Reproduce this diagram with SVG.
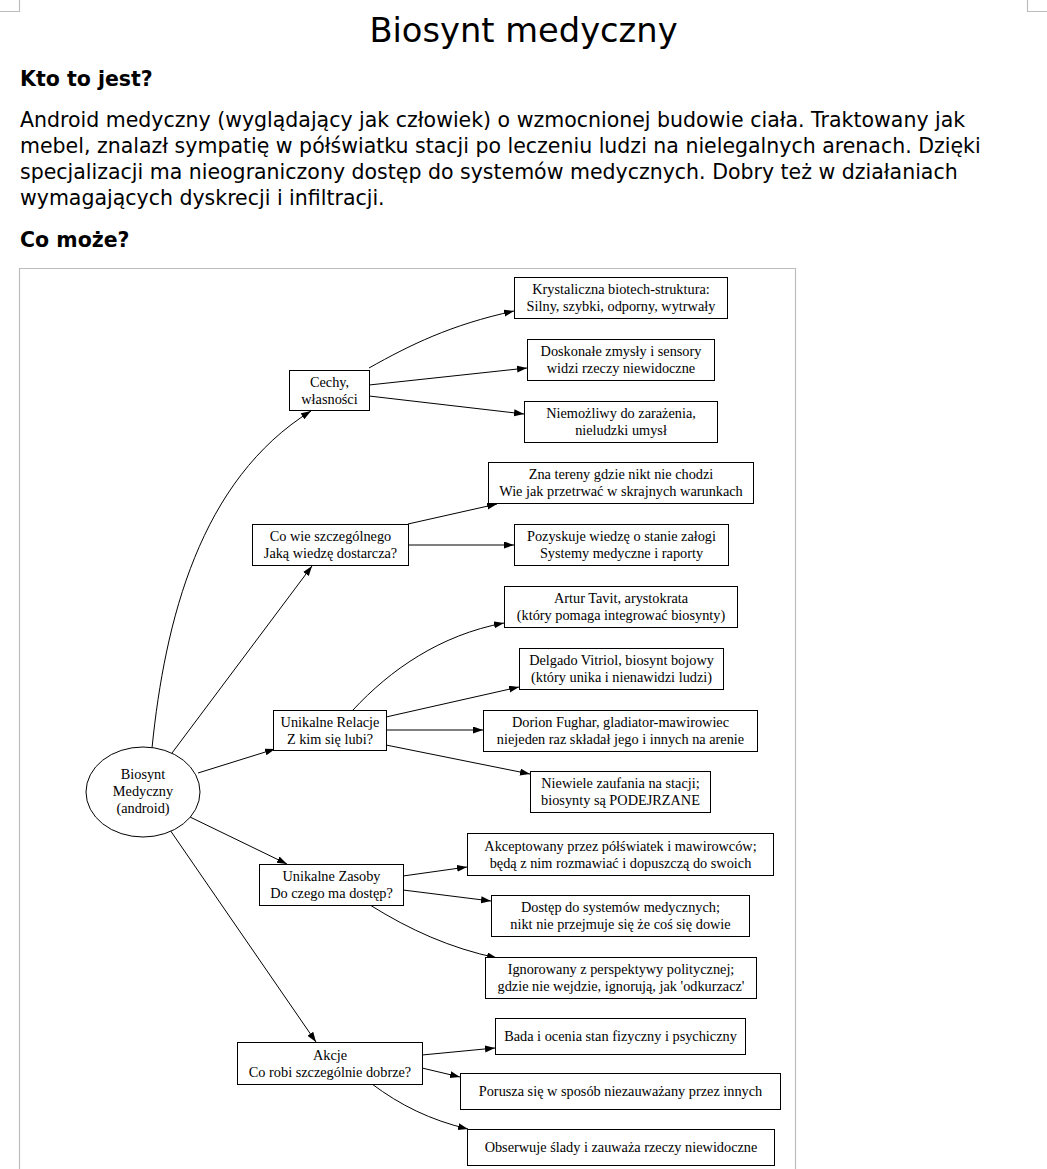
<svg xmlns="http://www.w3.org/2000/svg" width="1047" height="1169" viewBox="0 0 1047 1169">
<defs>
<marker id="arr" markerUnits="userSpaceOnUse" markerWidth="11" markerHeight="8" refX="10" refY="3.5" orient="auto">
<path d="M0,0 L10,3.5 L0,7 z" fill="#000"/>
</marker>
<style>
.hd{font-family:"DejaVu Sans",sans-serif;fill:#000}
.t{font-family:"Liberation Serif","Times New Roman",serif;font-size:14.3px;fill:#000;text-anchor:middle}
.b{fill:#fff;stroke:#000;stroke-width:1}
.e{fill:none;stroke:#000;stroke-width:1;marker-end:url(#arr)}
.g{fill:none;stroke:#bdbdbd;stroke-width:1.2}
</style>
</defs>
<rect width="1047" height="1169" fill="#fff"/>
<path class="g" d="M19.5,0 V11.5 H0 M1027.5,0 V11.5 H1047"/>
<text class="hd" x="523.5" y="42" font-size="33.7" text-anchor="middle">Biosynt medyczny</text>
<text class="hd" x="20" y="86" font-size="20.5" font-weight="bold">Kto to jest?</text>
<g class="hd" font-size="20.5">
<text x="20" y="127">Android medyczny (wyglądający jak człowiek) o wzmocnionej budowie ciała. Traktowany jak</text>
<text x="20" y="153">mebel, znalazł sympatię w półświatku stacji po leczeniu ludzi na nielegalnych arenach. Dzięki</text>
<text x="20" y="179">specjalizacji ma nieograniczony dostęp do systemów medycznych. Dobry też w działaniach</text>
<text x="20" y="205">wymagających dyskrecji i infiltracji.</text>
</g>
<text class="hd" x="20" y="247" font-size="20.5" font-weight="bold">Co może?</text>
<path class="g" d="M19.5,1169 V268.5 H795.5 V1169"/>

<g id="connectors">
<path class="e" d="M152,748 C165,620 200,480 311,411"/>
<path class="e" d="M172,753 L312,566"/>
<path class="e" d="M198,773 L275,749"/>
<path class="e" d="M190,817 L287,864"/>
<path class="e" d="M170,830 L316,1042"/>
<path class="e" d="M369,368 C410,345 450,325 514,311"/>
<path class="e" d="M369,385 L527,368"/>
<path class="e" d="M369,396 L524,414"/>
<path class="e" d="M408,524 L497,504"/>
<path class="e" d="M408,545 L514,545"/>
<path class="e" d="M353,710 C390,670 440,635 504,623"/>
<path class="e" d="M386,717 L519,687"/>
<path class="e" d="M386,730 L483,730"/>
<path class="e" d="M386,745 L530,774"/>
<path class="e" d="M403,876 L467,867"/>
<path class="e" d="M403,890 L491,901"/>
<path class="e" d="M370,905 C410,930 450,948 497,958"/>
<path class="e" d="M422,1055 L495,1048"/>
<path class="e" d="M422,1068 L460,1077"/>
<path class="e" d="M372,1084 C400,1105 430,1120 468,1129"/>
</g>

<g id="root">
<ellipse class="b" cx="143" cy="792" rx="57" ry="45"/>
<text class="t" x="143" y="779">Biosynt</text>
<text class="t" x="143" y="796">Medyczny</text>
<text class="t" x="143" y="813">(android)</text>
</g>

<g id="cechy">
<rect class="b" x="289.5" y="370.5" width="80" height="40"/>
<text class="t" x="329.5" y="387">Cechy,</text>
<text class="t" x="329.5" y="404">własności</text>
</g>
<g id="krystaliczna">
<rect class="b" x="514.5" y="277.5" width="213" height="41"/>
<text class="t" x="621" y="294">Krystaliczna biotech-struktura:</text>
<text class="t" x="621" y="311">Silny, szybki, odporny, wytrwały</text>
</g>
<g id="zmysly">
<rect class="b" x="527.5" y="339.5" width="187" height="41"/>
<text class="t" x="621" y="356">Doskonałe zmysły i sensory</text>
<text class="t" x="621" y="373">widzi rzeczy niewidoczne</text>
</g>
<g id="niemozliwy">
<rect class="b" x="524.5" y="401.5" width="193" height="41"/>
<text class="t" x="621" y="418">Niemożliwy do zarażenia,</text>
<text class="t" x="621" y="435">nieludzki umysł</text>
</g>

<g id="cowie">
<rect class="b" x="252.5" y="524.5" width="156" height="41"/>
<text class="t" x="330.5" y="541">Co wie szczególnego</text>
<text class="t" x="330.5" y="558">Jaką wiedzę dostarcza?</text>
</g>
<g id="tereny">
<rect class="b" x="488.5" y="462.5" width="265" height="41"/>
<text class="t" x="621" y="479">Zna tereny gdzie nikt nie chodzi</text>
<text class="t" x="621" y="496">Wie jak przetrwać w skrajnych warunkach</text>
</g>
<g id="pozyskuje">
<rect class="b" x="514.5" y="524.5" width="214" height="41"/>
<text class="t" x="621.5" y="541">Pozyskuje wiedzę o stanie załogi</text>
<text class="t" x="621.5" y="558">Systemy medyczne i raporty</text>
</g>

<g id="relacje">
<rect class="b" x="273.5" y="710.5" width="113" height="40"/>
<text class="t" x="330" y="727">Unikalne Relacje</text>
<text class="t" x="330" y="744">Z kim się lubi?</text>
</g>
<g id="artur">
<rect class="b" x="504.5" y="586.5" width="233" height="41"/>
<text class="t" x="621" y="603">Artur Tavit, arystokrata</text>
<text class="t" x="621" y="620">(który pomaga integrować biosynty)</text>
</g>
<g id="delgado">
<rect class="b" x="519.5" y="648.5" width="204" height="41"/>
<text class="t" x="621.5" y="665">Delgado Vitriol, biosynt bojowy</text>
<text class="t" x="621.5" y="682">(który unika i nienawidzi ludzi)</text>
</g>
<g id="dorion">
<rect class="b" x="483.5" y="710.5" width="274" height="41"/>
<text class="t" x="620.5" y="727">Dorion Fughar, gladiator-mawirowiec</text>
<text class="t" x="620.5" y="744">niejeden raz składał jego i innych na arenie</text>
</g>
<g id="niewiele">
<rect class="b" x="530.5" y="771.5" width="180" height="41"/>
<text class="t" x="620.5" y="788">Niewiele zaufania na stacji;</text>
<text class="t" x="620.5" y="805">biosynty są PODEJRZANE</text>
</g>

<g id="zasoby">
<rect class="b" x="259.5" y="864.5" width="144" height="41"/>
<text class="t" x="331.5" y="881">Unikalne Zasoby</text>
<text class="t" x="331.5" y="898">Do czego ma dostęp?</text>
</g>
<g id="akceptowany">
<rect class="b" x="467.5" y="833.5" width="306" height="42"/>
<text class="t" x="620.5" y="851">Akceptowany przez półświatek i mawirowców;</text>
<text class="t" x="620.5" y="868">będą z nim rozmawiać i dopuszczą do swoich</text>
</g>
<g id="dostep">
<rect class="b" x="491.5" y="895.5" width="258" height="41"/>
<text class="t" x="620.5" y="912">Dostęp do systemów medycznych;</text>
<text class="t" x="620.5" y="929">nikt nie przejmuje się że coś się dowie</text>
</g>
<g id="ignorowany">
<rect class="b" x="485.5" y="957.5" width="271" height="41"/>
<text class="t" x="621" y="974">Ignorowany z perspektywy politycznej;</text>
<text class="t" x="621" y="991">gdzie nie wejdzie, ignorują, jak 'odkurzacz'</text>
</g>

<g id="akcje">
<rect class="b" x="237.5" y="1042.5" width="185" height="42"/>
<text class="t" x="330" y="1060">Akcje</text>
<text class="t" x="330" y="1077">Co robi szczególnie dobrze?</text>
</g>
<g id="bada">
<rect class="b" x="495.5" y="1018.5" width="250" height="36"/>
<text class="t" x="620.5" y="1041">Bada i ocenia stan fizyczny i psychiczny</text>
</g>
<g id="porusza">
<rect class="b" x="460.5" y="1073.5" width="320" height="36"/>
<text class="t" x="620.5" y="1096">Porusza się w sposób niezauważany przez innych</text>
</g>
<g id="obserwuje">
<rect class="b" x="467.5" y="1129.5" width="307" height="36"/>
<text class="t" x="621" y="1152">Obserwuje ślady i zauważa rzeczy niewidoczne</text>
</g>
</svg>
